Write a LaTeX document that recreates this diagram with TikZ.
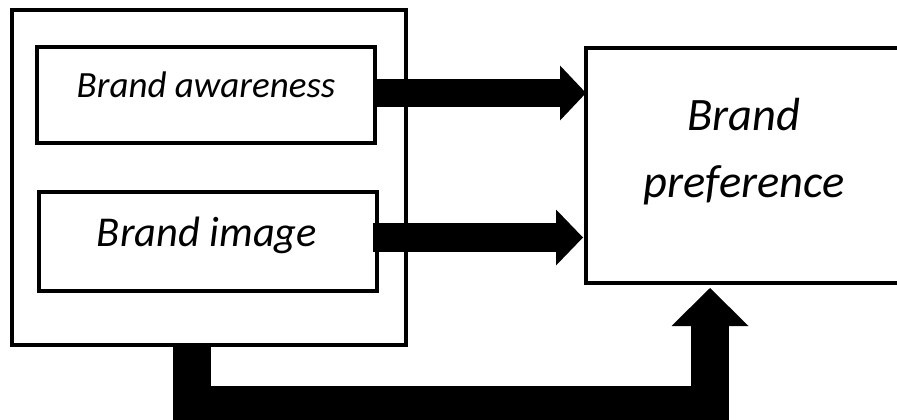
\documentclass[tikz,border=0pt]{standalone}
\usepackage{fontspec}
\setmainfont{Carlito}
\usetikzlibrary{arrows.meta}

\tikzset{
	box/.style={draw, line width=4pt, rectangle, inner sep=0pt},
	lbl/.style={anchor=base, font=\itshape, inner sep=0pt},
	fat/.style={line width=#1, draw=black}
}

\begin{document}
\begin{tikzpicture}[x=1pt,y=-1pt]
	\useasboundingbox (0,0) rectangle (897,420);
	\node[box, minimum width=394pt, minimum height=335pt] (frame) at (209,177.5) {};
	\node[box, minimum width=338pt, minimum height=96pt] (aware) at (206,95) {};
	\node[box, minimum width=338pt, minimum height=99pt] (image) at (208,241.5) {};
	\node[box, minimum width=316pt, minimum height=235pt] (pref) at (744,165.5) {};
	\node[lbl, font=\itshape\fontsize{37}{44}\selectfont] (awaretext) at (206,97) {Brand awareness};
	\node[lbl, font=\itshape\fontsize{42.5}{51}\selectfont] (imagetext) at (207,246) {Brand image};
	\node[align=center, inner sep=0pt, font=\itshape\fontsize{46.5}{67}\selectfont] (preftext) at (744,152) {Brand\\preference};
	\draw[fat=27pt, -{Triangle[width=55pt,length=26pt,line width=0pt]}]
		([yshift=2pt]aware.east) -- ([xshift=2pt,yshift=72.5pt]pref.west);
	\draw[fat=29pt, -{Triangle[width=56pt,length=27pt,line width=0pt]}]
		([xshift=-6pt,yshift=4pt]image.east) -- ([xshift=-1pt,yshift=-72pt]pref.west);
	\draw[fat=38pt, -{Triangle[width=77pt,length=38pt,line width=0pt]}]
		([xshift=-17pt,yshift=2pt]frame.south) |- ([xshift=-34pt,yshift=-120pt]pref.south)
		-- ([xshift=-34pt,yshift=-3pt]pref.south);
\end{tikzpicture}
\end{document}
